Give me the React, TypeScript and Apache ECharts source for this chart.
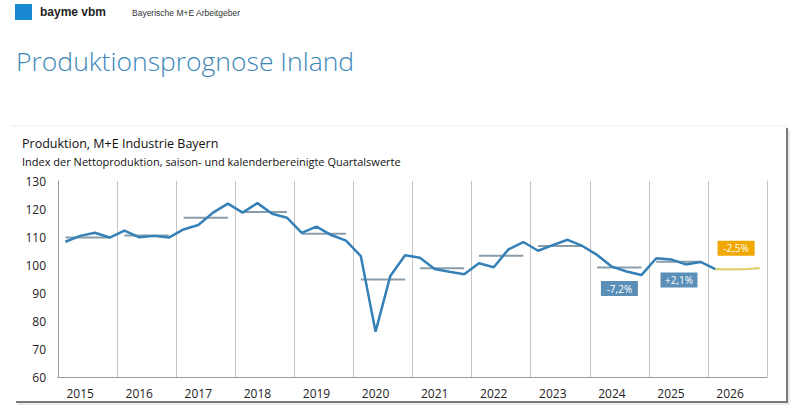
import React, { useEffect, useRef } from "react";
import * as echarts from "echarts";

// Quarterly categories 2015 Q1 … 2026 Q4
const years = ["2015", "2016", "2017", "2018", "2019", "2020", "2021", "2022", "2023", "2024", "2025", "2026"];
const quarters = ["Q1", "Q2", "Q3", "Q4"];
const categories = years.flatMap((y) => quarters.map((q) => `${y}-${q}`));

// Production index, actual quarterly values (through 2026 Q1)
const production = [
  108.3, 110.4, 111.5, 109.8,
  112.3, 109.9, 110.4, 109.8,
  112.7, 114.3, 118.7, 121.9,
  118.7, 122.1, 118.3, 116.9,
  111.5, 113.7, 110.7, 108.7,
  103.2, 76.2, 96.1, 103.5,
  102.6, 98.6, 97.6, 96.7,
  100.6, 99.2, 105.6, 108.2,
  105.1, 107.1, 109.0, 106.8,
  103.6, 99.4, 97.7, 96.4,
  102.4, 102.0, 100.2, 101.1,
  98.5,
];

// Forecast quarterly values for 2026 (starts at the last actual quarter)
const forecastStart = 44;
const forecast = [98.5, 98.4, 98.5, 98.9];

// Annual averages
const annualAverage = [109.8, 110.5, 116.9, 118.9, 111.2, 94.8, 98.8, 103.3, 106.8, 99.1, 101.2, 98.7];

// Year-on-year change labels: [text, quarter, index value, colour]
const changeLabels: [string, string, number, string][] = [
  ["-7,2%", "2024-Q2", 91.6, "#5b8fb7"],
  ["+2,1%", "2025-Q2", 94.6, "#5b8fb7"],
  ["-2,5%", "2026-Q2", 106.0, "#f0a800"],
];
const labelShift = [7.5, 8, 6];

const FONT = "'Open Sans', 'Noto Sans', sans-serif";

function averageSeries(parity: number) {
  const data: (number | null)[] = categories.map(() => null);
  annualAverage.forEach((v, yi) => {
    if (yi % 2 !== parity || yi === years.length - 1) return;
    for (let q = 0; q < 4; q++) data[yi * 4 + q] = v;
  });
  return data;
}

const forecastData: (number | null)[] = categories.map((_, i) =>
  i >= forecastStart ? forecast[i - forecastStart] : null
);
const forecastAverage: (number | null)[] = categories.map((_, i) =>
  i >= forecastStart ? annualAverage[years.length - 1] : null
);

export default function App() {
  const ref = useRef<HTMLDivElement>(null);

  useEffect(() => {
    if (!ref.current) return;
    const chart = echarts.init(ref.current, undefined, { renderer: "svg" });

    const avgStyle = {
      type: "line" as const,
      symbol: "none",
      connectNulls: false,
      z: 1,
      lineStyle: { color: "#8a9dab", width: 2 },
      emphasis: { disabled: true },
    };

    chart.setOption({
      animation: false,
      backgroundColor: "#ffffff",
      grid: { left: 58, right: 33, top: 181, bottom: 37, containLabel: false },
      xAxis: [
        {
          type: "category",
          data: categories,
          boundaryGap: true,
          axisLine: { show: true, lineStyle: { color: "#9a9a9a", width: 1 } },
          axisTick: { show: false },
          axisLabel: {
            interval: (idx: number) => idx % 4 === 1,
            formatter: (v: string) => v.slice(0, 4),
            color: "#222",
            fontFamily: FONT,
            fontSize: 12,
            margin: 10,
          },
          splitLine: {
            show: true,
            interval: (idx: number) => idx % 4 === 0,
            lineStyle: { color: "#c4c4c4", width: 1 },
          },
        },
      ],
      yAxis: [
        {
          type: "value",
          min: 60,
          max: 130,
          interval: 10,
          axisLine: { show: true, lineStyle: { color: "#9a9a9a", width: 1 } },
          axisTick: { show: false },
          splitLine: { show: false },
          axisLabel: { color: "#222", fontFamily: FONT, fontSize: 12, margin: 12 },
        },
        {
          type: "value",
          min: 60,
          max: 130,
          interval: 10,
          position: "right",
          axisLine: { show: true, lineStyle: { color: "#c4c4c4", width: 1 } },
          axisTick: { show: false },
          axisLabel: { show: false },
          splitLine: { show: false },
        },
      ],
      series: [
        { ...avgStyle, name: "avgEven", data: averageSeries(0) },
        { ...avgStyle, name: "avgOdd", data: averageSeries(1) },
        {
          ...avgStyle,
          name: "avgForecast",
          data: forecastAverage,
          lineStyle: { color: "#ece4a4", width: 1.5 },
        },
        {
          name: "Prognose",
          type: "line",
          data: forecastData,
          symbol: "none",
          z: 2,
          lineStyle: { color: "#dcd070", width: 2 },
          emphasis: { disabled: true },
        },
        {
          name: "Produktion",
          type: "line",
          data: production,
          symbol: "none",
          z: 3,
          lineStyle: { color: "#3480b7", width: 2.5 },
          emphasis: { disabled: true },
          markPoint: {
            silent: true,
            symbol: "rect",
            symbolSize: [37, 15],
            data: changeLabels.map(([text, x, y, color], i) => ({
              coord: [x, y],
              symbolOffset: [labelShift[i], 0],
              itemStyle: { color },
              label: {
                show: true,
                position: "inside",
                formatter: text,
                color: "#ffffff",
                fontFamily: FONT,
                fontSize: 10,
              },
            })),
          },
        },
      ],
      graphic: [
        // brand header
        { type: "rect", shape: { x: 15, y: 4, width: 17, height: 16 }, style: { fill: "#1b88d4" } },
        {
          type: "text",
          x: 40,
          y: 12,
          style: {
            text: "bayme vbm",
            font: "bold 12px 'Liberation Sans', Arial, sans-serif",
            fill: "#1e1e1e",
            textVerticalAlign: "middle",
          },
        },
        {
          type: "text",
          x: 132,
          y: 13,
          style: {
            text: "Bayerische M+E Arbeitgeber",
            font: "8.5px 'Liberation Sans', Arial, sans-serif",
            fill: "#333",
            textVerticalAlign: "middle",
          },
        },
        {
          type: "text",
          x: 16,
          y: 61,
          style: {
            text: "Produktionsprognose Inland",
            font: `300 26.5px ${FONT}`,
            fill: "#3d87b8",
            textVerticalAlign: "middle",
          },
        },
        // chart frame
        { type: "line", shape: { x1: 12, y1: 126, x2: 787, y2: 126 }, style: { stroke: "#ececec", lineWidth: 1 } },
        { type: "line", shape: { x1: 787, y1: 128, x2: 787, y2: 403 }, style: { stroke: "#7a7a7a", lineWidth: 2 } },
        { type: "line", shape: { x1: 16, y1: 402, x2: 788, y2: 402 }, style: { stroke: "#7a7a7a", lineWidth: 2 } },
        { type: "line", shape: { x1: 789, y1: 130, x2: 789, y2: 404 }, style: { stroke: "#d8d8d8", lineWidth: 1 } },
        { type: "line", shape: { x1: 18, y1: 404, x2: 789, y2: 404 }, style: { stroke: "#d8d8d8", lineWidth: 1 } },
        {
          type: "text",
          x: 22,
          y: 143,
          style: {
            text: "Produktion, M+E Industrie Bayern",
            font: `12.5px ${FONT}`,
            fill: "#111",
            textVerticalAlign: "middle",
          },
        },
        {
          type: "text",
          x: 22,
          y: 161,
          style: {
            text: "Index der Nettoproduktion, saison- und kalenderbereinigte Quartalswerte",
            font: `11px ${FONT}`,
            fill: "#111",
            textVerticalAlign: "middle",
          },
        },
      ],
    });

    return () => chart.dispose();
  }, []);

  return (
    <div
      ref={ref}
      style={{ position: "absolute", left: 0, top: 0, width: 800, height: 414, background: "#fff" }}
    />
  );
}
